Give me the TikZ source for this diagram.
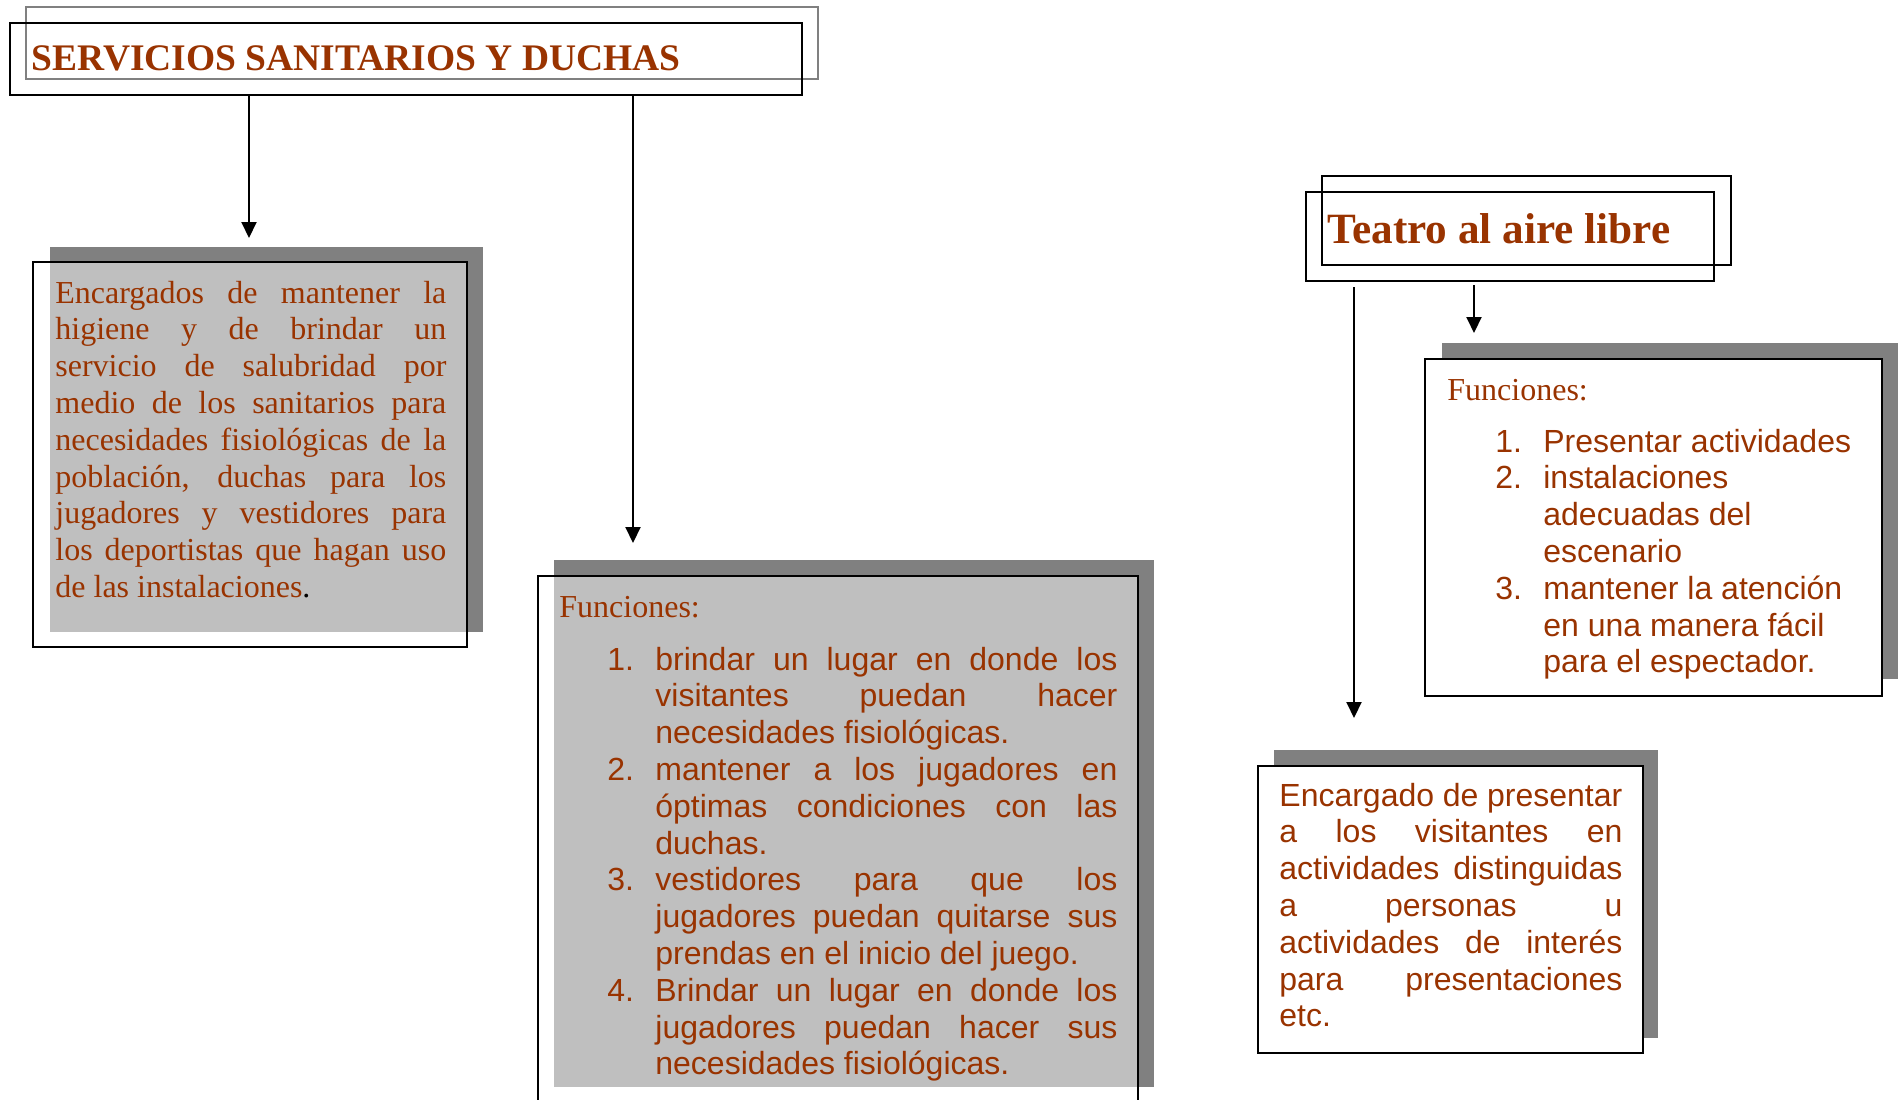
\documentclass[tikz,border=0pt]{standalone}
\usepackage{fontspec}
\setmainfont{Liberation Serif}
\newfontfamily\arialf{Liberation Sans}
\usetikzlibrary{fit,arrows.meta}
\definecolor{txt}{HTML}{993300}
\definecolor{shad}{HTML}{808080}
\newcommand\serifbody{\fontsize{16pt}{18.4pt}\selectfont}
\newcommand\sansbody{\arialf\fontsize{16pt}{18.4pt}\selectfont}
\newcommand\titlefontA{\bfseries\fontsize{18.75pt}{22pt}\selectfont}
\newcommand\titlefontB{\bfseries\fontsize{21.6pt}{25pt}\selectfont}
\newcommand\mysetpar{\tolerance=10000 \hyphenpenalty=10000 \exhyphenpenalty=10000 \parindent=0pt}
\newcommand\itm[1]{\leavevmode\llap{\makebox[24pt][l]{#1}}}
\tikzset{
  outline/.style={draw=black, line width=1pt, inner sep=0pt},
  shadowbox/.style={fill=shad, draw=none, inner sep=0pt},
  conn/.style={line width=1pt, -{Triangle[width=7.5pt,length=8pt]}},
  body/.style={inner sep=0pt, anchor=base west, text=txt},
}
\begin{document}
\begin{tikzpicture}[x=0.5pt,y=-0.5pt]
\clip (0,0) rectangle (1902,1099);
\fill[white] (0,0) rectangle (1902,1099);

% ---------- Title 1 ----------
\node[outline, draw=shad, fit={(26,7) (818,79)}] (t1back) {};
\node[outline, fit={(10,23) (802,95)}] (t1) {};
\node[body, font=\titlefontA] (t1txt) at (31,70) {SERVICIOS SANITARIOS Y DUCHAS};

% ---------- Box 1 ----------
\node[shadowbox, fit={(50,247) (483,632)}] (b1s) {};
\node[outline, fill=white, fill opacity=0.5, fit={(33,262) (467,647)}] (b1) {};
\node[body, font=\serifbody] (b1txt) at (55,303) {\parbox[t]{195.5pt}{\mysetpar
Encargados de mantener la\linebreak
higiene y de brindar un\linebreak
servicio de salubridad por\linebreak
medio de los sanitarios para\linebreak
necesidades fisiológicas de la\linebreak
población, duchas para los\linebreak
jugadores y vestidores para\linebreak
los deportistas que hagan uso\linebreak
de las instalaciones{\color{black}.}}};

% ---------- Box 2 ----------
\node[shadowbox, fit={(554,560) (1154,1087)}] (b2s) {};
\node[outline, fill=white, fill opacity=0.5, fit={(538,576) (1138,1130)}] (b2) {};
\node[body, font=\serifbody] (b2head) at (559,617) {Funciones:};
\node[body, font=\sansbody] (b2list) at (655,670) {\parbox[t]{231pt}{\mysetpar
\itm{1.}brindar un lugar en donde los\linebreak
visitantes puedan hacer\linebreak
necesidades fisiológicas.\par
\itm{2.}mantener a los jugadores en\linebreak
óptimas condiciones con las\linebreak
duchas.\par
\itm{3.}vestidores para que los\linebreak
jugadores puedan quitarse sus\linebreak
prendas en el inicio del juego.\par
\itm{4.}Brindar un lugar en donde los\linebreak
jugadores puedan hacer sus\linebreak
necesidades fisiológicas.}};

% ---------- Title 2 ----------
\node[outline, fit={(1322,176) (1731,265)}] (t2back) {};
\node[outline, fit={(1306,192) (1714,281)}] (t2) {};
\node[body, font=\titlefontB] (t2txt) at (1327,243) {Teatro al aire libre};

% ---------- Box 3 ----------
\node[shadowbox, fit={(1442,343) (1898,679)}] (b3s) {};
\node[outline, fill=white, fit={(1425,359) (1882,696)}] (b3) {};
\node[body, font=\serifbody] (b3head) at (1447,400) {Funciones:};
\node[body, font=\sansbody] (b3list) at (1543,452) {\parbox[t]{170pt}{\mysetpar\raggedright
\itm{1.}Presentar actividades\par
\itm{2.}instalaciones\newline
adecuadas del\newline
escenario\par
\itm{3.}mantener la atención\newline
en una manera fácil\newline
para el espectador.}};

% ---------- Box 4 ----------
\node[shadowbox, fit={(1274,750) (1658,1038)}] (b4s) {};
\node[outline, fill=white, fit={(1258,766) (1643,1053)}] (b4) {};
\node[body, font=\sansbody] (b4txt) at (1279,806) {\parbox[t]{171.5pt}{\mysetpar
Encargado de presentar\linebreak
a los visitantes en\linebreak
actividades distinguidas\linebreak
a personas u\linebreak
actividades de interés\linebreak
para presentaciones\linebreak
etc.}};

% ---------- Connectors ----------
\coordinate (a1e) at (249,238);
\coordinate (a2e) at (633,543);
\draw[conn] (t1.south -| a1e) -- (a1e);
\draw[conn] (t1.south -| a2e) -- (a2e);
\coordinate (a3s) at (1354,287);
\coordinate (a3e) at (1354,718);
\coordinate (a4s) at (1474,285);
\coordinate (a4e) at (1474,333);
\draw[conn] (a3s) -- (a3e);
\draw[conn] (a4s) -- (a4e);
\end{tikzpicture}
\end{document}
